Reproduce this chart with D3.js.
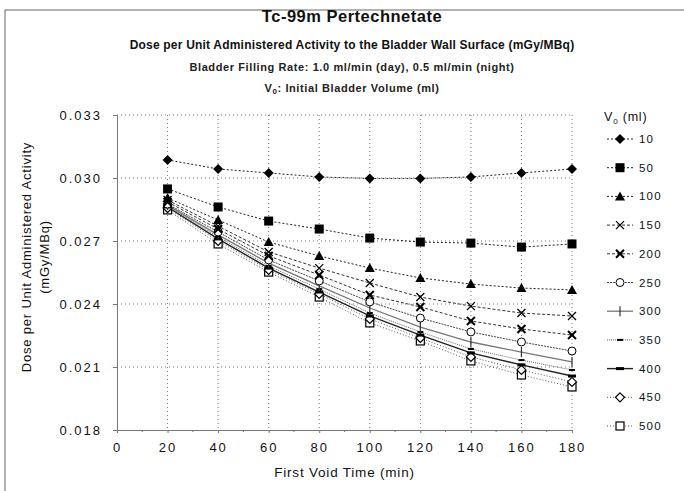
<!DOCTYPE html>
<html>
<head>
<meta charset="utf-8">
<script src="https://cdn.jsdelivr.net/npm/d3@7"></script>
<style>
body { margin: 0; background: #fff; }
svg { font-family: "Liberation Sans", Arial, sans-serif; }
.grid line { stroke: #777; stroke-dasharray: 1,3; }
</style>
</head>
<body>
<div id="chart"></div>
<script>
// data
const times = [20, 40, 60, 80, 100, 120, 140, 160, 180];
const xTicks = [0, 20, 40, 60, 80, 100, 120, 140, 160, 180];
const yTicks = [0.018, 0.021, 0.024, 0.027, 0.030, 0.033];
const volumes = ["10", "50", "100", "150", "200", "250", "300", "350", "400", "450", "500"];

const dose10  = [0.03086, 0.03043, 0.03024, 0.03005, 0.02998, 0.02998, 0.03005, 0.03024, 0.03043];
const dose50  = [0.02948, 0.02862, 0.02795, 0.02757, 0.02714, 0.02695, 0.02690, 0.02671, 0.02686];
const dose100 = [0.02905, 0.02800, 0.02695, 0.02629, 0.02571, 0.02524, 0.02495, 0.02476, 0.02467];
const dose150 = [0.02895, 0.02771, 0.02648, 0.02571, 0.02500, 0.02433, 0.02390, 0.02357, 0.02343];
const dose200 = [0.02886, 0.02757, 0.02629, 0.02538, 0.02443, 0.02386, 0.02319, 0.02281, 0.02252];
const dose250 = [0.02876, 0.02743, 0.02610, 0.02510, 0.02410, 0.02333, 0.02267, 0.02219, 0.02176];
const dose300 = [0.02871, 0.02729, 0.02595, 0.02486, 0.02381, 0.02290, 0.02219, 0.02171, 0.02124];
const dose350 = [0.02867, 0.02720, 0.02581, 0.02471, 0.02357, 0.02267, 0.02186, 0.02133, 0.02086];
const dose400 = [0.02862, 0.02710, 0.02571, 0.02457, 0.02343, 0.02252, 0.02167, 0.02110, 0.02057];
const dose450 = [0.02857, 0.02700, 0.02562, 0.02448, 0.02329, 0.02238, 0.02148, 0.02086, 0.02029];
const dose500 = [0.02848, 0.02686, 0.02552, 0.02433, 0.02310, 0.02224, 0.02129, 0.02062, 0.02005];

const allDoses = [dose10, dose50, dose100, dose150, dose200, dose250, dose300, dose350, dose400, dose450, dose500];

// line + marker look for each series (same order as volumes)
const styles = [
    { marker: "diamond", dash: "2,2", stroke: "#222", width: 1 },
    { marker: "square", dash: "2,2", stroke: "#222", width: 1 },
    { marker: "triangle", dash: "2,2", stroke: "#222", width: 1 },
    { marker: "x", dash: "3,2", stroke: "#333", width: 1 },
    { marker: "xbold", dash: "3,2", stroke: "#333", width: 1 },
    { marker: "circle", dash: "2,1", stroke: "#444", width: 1 },
    { marker: "plus", dash: null, stroke: "#777", width: 1.3 },
    { marker: "dash", dash: "1,1", stroke: "#666", width: 1 },
    { marker: "dashbold", dash: null, stroke: "#222", width: 1.4 },
    { marker: "odiamond", dash: "1,2", stroke: "#555", width: 1 },
    { marker: "osquare", dash: "1,2", stroke: "#555", width: 1 }
];

const series = volumes.map((v, i) => ({
    label: v,
    style: styles[i],
    points: times.map((t, j) => ({ t: t, d: allDoses[i][j] }))
}));

const width = 684, height = 491;
const svg = d3.select("#chart").append("svg")
    .attr("width", width)
    .attr("height", height);

// page frame like the scan
svg.append("rect")
    .attr("x", 5).attr("y", 10)
    .attr("width", 700).attr("height", 500)
    .attr("fill", "none")
    .attr("stroke", "#666")
    .attr("stroke-width", 1);

const x = d3.scaleLinear().domain([0, 180]).range([117, 572]);
const y = d3.scaleLinear().domain([0.018, 0.033]).range([430, 115]);

// grid
const grid = svg.append("g").attr("class", "grid");
grid.selectAll(".vg")
    .data(xTicks.slice(1))
    .enter().append("line")
    .attr("x1", d => x(d)).attr("x2", d => x(d))
    .attr("y1", y(0.033)).attr("y2", y(0.018));
grid.selectAll(".hg")
    .data(yTicks.slice(1))
    .enter().append("line")
    .attr("x1", x(0)).attr("x2", x(180))
    .attr("y1", d => y(d)).attr("y2", d => y(d));

// axes
const xAxis = svg.append("g")
    .attr("transform", `translate(0,${y(0.018)})`)
    .call(d3.axisBottom(x).tickValues(xTicks).tickSize(3).tickPadding(10));
const yAxis = svg.append("g")
    .attr("transform", `translate(${x(0)},0)`)
    .call(d3.axisLeft(y).tickValues(yTicks).tickFormat(d3.format(".3f")).tickSize(4).tickPadding(11));

[xAxis, yAxis].forEach(a => {
    a.select(".domain").attr("stroke", "#777");
    a.selectAll(".tick line").attr("stroke", "#777");
    a.selectAll("text")
        .attr("fill", "#111")
        .attr("font-size", 13)
        .attr("letter-spacing", 2)
        .attr("font-family", "Liberation Sans, Arial, sans-serif");
});

// minor ticks on x axis
svg.append("g").selectAll("line")
    .data(d3.range(10, 180, 20))
    .enter().append("line")
    .attr("x1", d => x(d)).attr("x2", d => x(d))
    .attr("y1", y(0.018)).attr("y2", y(0.018) + 2)
    .attr("stroke", "#777");

// marker shapes
function drawMarker(g, type) {
    switch (type) {
        case "diamond":
            g.append("path").attr("d", "M0,-5L5,0L0,5L-5,0Z").attr("fill", "#000");
            break;
        case "square":
            g.append("rect").attr("x", -4.5).attr("y", -4.5).attr("width", 9).attr("height", 9).attr("fill", "#000");
            break;
        case "triangle":
            g.append("path").attr("d", "M0,-5L5,4L-5,4Z").attr("fill", "#000");
            break;
        case "x":
            g.append("path").attr("d", "M-4,-4L4,4M-4,4L4,-4").attr("stroke", "#000").attr("stroke-width", 1.3);
            break;
        case "xbold":
            g.append("path").attr("d", "M-4,-4L4,4M-4,4L4,-4").attr("stroke", "#000").attr("stroke-width", 2);
            g.append("path").attr("d", "M-2,0L2,0").attr("stroke", "#000").attr("stroke-width", 2);
            break;
        case "circle":
            g.append("circle").attr("r", 4).attr("fill", "#fff").attr("stroke", "#000").attr("stroke-width", 1);
            break;
        case "plus":
            g.append("path").attr("d", "M0,-5L0,5").attr("stroke", "#333").attr("stroke-width", 1.2);
            break;
        case "dash":
            g.append("path").attr("d", "M-3,0L3,0").attr("stroke", "#000").attr("stroke-width", 2);
            break;
        case "dashbold":
            g.append("path").attr("d", "M-4,0L4,0").attr("stroke", "#000").attr("stroke-width", 3);
            break;
        case "odiamond":
            g.append("path").attr("d", "M0,-4.5L4.5,0L0,4.5L-4.5,0Z").attr("fill", "#fff").attr("stroke", "#000").attr("stroke-width", 1.2);
            break;
        case "osquare":
            g.append("rect").attr("x", -4).attr("y", -4).attr("width", 8).attr("height", 8)
                .attr("fill", "#fff").attr("stroke", "#000").attr("stroke-width", 1.2);
            break;
    }
}

const line = d3.line().x(p => x(p.t)).y(p => y(p.d));

// draw from the bottom series up so upper markers sit on top
series.slice().reverse().forEach(s => {
    svg.append("path")
        .datum(s.points)
        .attr("d", line)
        .attr("fill", "none")
        .attr("stroke", s.style.stroke)
        .attr("stroke-width", s.style.width)
        .attr("stroke-dasharray", s.style.dash);
});
series.slice().reverse().forEach(s => {
    s.points.forEach(p => {
        const g = svg.append("g").attr("transform", `translate(${x(p.t)},${y(p.d)})`);
        drawMarker(g, s.style.marker);
    });
});

// titles
const cx = 352;
svg.append("text").attr("x", cx).attr("y", 22).attr("text-anchor", "middle")
    .attr("font-size", 16.5).attr("font-weight", "bold").attr("letter-spacing", 0.5).attr("fill", "#111")
    .text("Tc-99m  Pertechnetate");
svg.append("text").attr("x", cx).attr("y", 49).attr("text-anchor", "middle")
    .attr("font-size", 12).attr("font-weight", "bold").attr("letter-spacing", 0.2).attr("fill", "#111")
    .text("Dose per Unit Administered Activity to the Bladder Wall Surface (mGy/MBq)");
svg.append("text").attr("x", cx).attr("y", 71).attr("text-anchor", "middle")
    .attr("font-size", 11).attr("font-weight", "bold").attr("letter-spacing", 0.6).attr("fill", "#222")
    .text("Bladder Filling Rate: 1.0 ml/min (day), 0.5 ml/min (night)");
const t4 = svg.append("text").attr("x", cx).attr("y", 92).attr("text-anchor", "middle")
    .attr("font-size", 11).attr("font-weight", "bold").attr("letter-spacing", 0.6).attr("fill", "#222");
t4.append("tspan").text("V");
t4.append("tspan").attr("font-size", 8).attr("dy", 2).text("0");
t4.append("tspan").attr("dy", -2).text(": Initial Bladder Volume (ml)");

// axis titles
svg.append("text")
    .attr("transform", "translate(31,257) rotate(-90)")
    .attr("text-anchor", "middle").attr("font-size", 13).attr("letter-spacing", 0.8).attr("fill", "#111")
    .text("Dose per Unit Administered Activity");
svg.append("text")
    .attr("transform", "translate(49,257) rotate(-90)")
    .attr("text-anchor", "middle").attr("font-size", 13).attr("letter-spacing", 0.8).attr("fill", "#111")
    .text("(mGy/MBq)");
svg.append("text")
    .attr("x", x(90)).attr("y", 477).attr("text-anchor", "middle")
    .attr("font-size", 13.5).attr("letter-spacing", 0.8).attr("fill", "#111")
    .text("First Void Time (min)");

// legend
const lg = svg.append("g");
const lh = lg.append("text").attr("x", 604).attr("y", 121).attr("font-size", 12.5).attr("letter-spacing", 0.8).attr("fill", "#111");
lh.append("tspan").text("V");
lh.append("tspan").attr("font-size", 8).attr("dy", 3).text("0");
lh.append("tspan").attr("dy", -3).text(" (ml)");

series.forEach((s, i) => {
    const ly = 139 + i * 28.7;
    const row = lg.append("g").attr("transform", `translate(620,${ly})`);
    row.append("line")
        .attr("x1", -13).attr("x2", 13)
        .attr("stroke", s.style.stroke)
        .attr("stroke-width", s.style.width)
        .attr("stroke-dasharray", s.style.dash);
    drawMarker(row, s.style.marker);
    row.append("text")
        .attr("x", 19).attr("y", 4)
        .attr("font-size", 11.5).attr("letter-spacing", 1.2).attr("fill", "#111")
        .text(s.label);
});
</script>
</body>
</html>
